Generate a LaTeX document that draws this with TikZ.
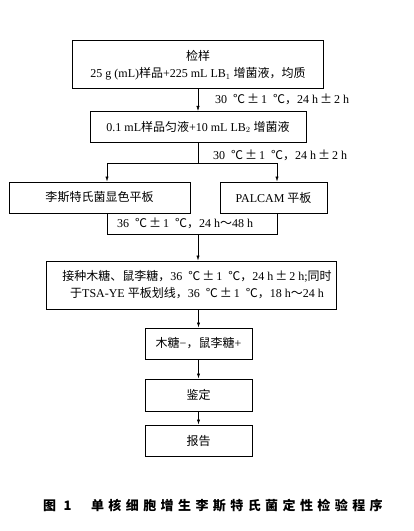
\documentclass[tikz,border=0pt]{standalone}
\usepackage{fontspec}
\setmainfont{Liberation Serif}
\newfontfamily\zhfont{Noto Sans CJK SC}
\newfontfamily\capfont[LetterSpace=34]{Noto Sans CJK SC}
\newcommand{\zh}[1]{{\zhfont #1}}
\newcommand{\pmz}{\,\zh{±}\,}
\usetikzlibrary{arrows.meta}

\tikzset{
	box/.style={draw, line width=1pt, minimum height=31bp, inner sep=2bp, align=center, font=\fontsize{12bp}{17bp}\selectfont},
	conn/.style={line width=0.5pt},
	arr/.style={conn, -{Latex[length=5bp,width=3.2bp]}},
	cond/.style={anchor=west, inner sep=0pt, font=\fontsize{12bp}{14bp}\selectfont},
}

\begin{document}
\begin{tikzpicture}[x=1bp, y=-1bp]
	\useasboundingbox (0,0) rectangle (413,531);
	
	\node[box, minimum width=251bp, minimum height=48bp] (sample) at (198,65) {\zh{检样}\\25 g (mL)\zh{样品}+225 mL LB$_1$ \zh{增菌液，均质}};
	\node[box, minimum width=216bp] (dilute) at (198,127) {0.1 mL\zh{样品匀液}+10 mL LB$_2$ \zh{增菌液}};
	\node[box, minimum width=181bp] (chromo) at (99.5,197.5) {\zh{李斯特氏菌显色平板}};
	\node[box, minimum width=107bp] (palcam) at (273.5,197.5) {PALCAM \zh{平板}};
	\node[box, minimum width=290bp, minimum height=48bp] (confirm) at (191,285) {\hspace*{12bp}\zh{接种木糖、鼠李糖，}36\enspace\zh{℃}\pmz 1\enspace\zh{℃，}24 h\pmz 2 h;\zh{同时}\\\hspace*{12bp}\zh{于}TSA-YE \zh{平板划线，}36\enspace\zh{℃}\pmz 1\enspace\zh{℃，}18 h\zh{～}24 h};
	\node[box, minimum width=107bp] (sugar) at (198.5,343.5) {\zh{木糖}−\zh{，鼠李糖}+};
	\node[box, minimum width=107bp, minimum height=32bp] (ident) at (198.5,395) {\zh{鉴定}};
	\node[box, minimum width=107bp] (report) at (198.5,440.5) {\zh{报告}};
	
	\node[cond] (inc1) at (215,99) {30\enspace\zh{℃}\pmz 1\enspace\zh{℃，}24 h\pmz 2 h};
	\node[cond] (inc2) at (213,155) {30\enspace\zh{℃}\pmz 1\enspace\zh{℃，}24 h\pmz 2 h};
	\node[cond] (inc3) at (117,223) {36\enspace\zh{℃}\pmz 1\enspace\zh{℃，}24 h\zh{～}48 h};
	
	\coordinate (split) at (198,163);
	\coordinate (lsplit) at (107,163);
	\coordinate (rsplit) at (277,163);
	\coordinate (lbr) at (107,234);
	\coordinate (rbr) at (277,234);
	\coordinate (join) at (198,234);
	
	\draw[arr] (sample) -- (dilute);
	\draw[conn] (dilute) -- (split);
	\draw[arr] (split) -- (lsplit) -- (lsplit |- chromo.north);
	\draw[arr] (split) -- (rsplit) -- (rsplit |- palcam.north);
	\draw[conn] (lsplit |- chromo.south) -- (lbr) -- (rbr) -- (rsplit |- palcam.south);
	\draw[arr] (join) -- (join |- confirm.north);
	\draw[arr] (sugar.north |- confirm.south) -- (sugar);
	\draw[arr] (sugar) -- (ident);
	\draw[arr] (ident) -- (report);
	
	\node[anchor=west, inner sep=0pt, font=\capfont\bfseries\fontsize{13bp}{15bp}\selectfont] (caption) at (43,506) {图 1\hspace{1.5em}单核细胞增生李斯特氏菌定性检验程序};
	
\end{tikzpicture}
\end{document}
